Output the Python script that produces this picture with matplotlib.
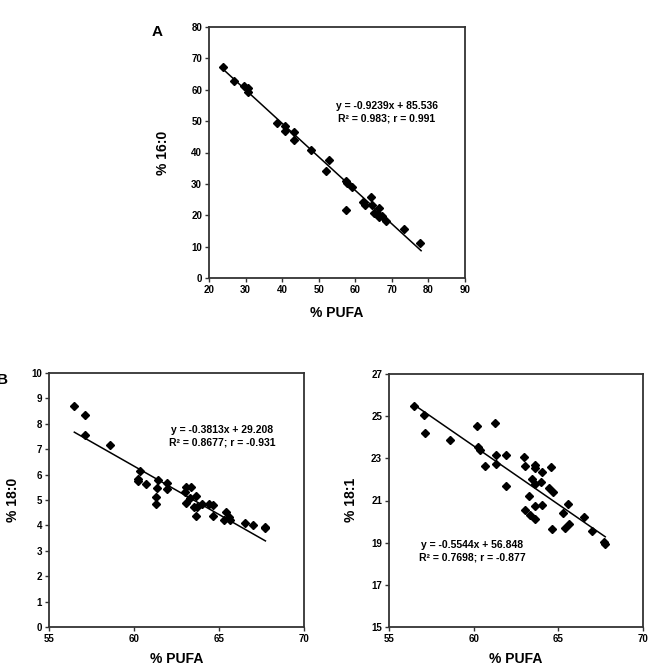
import matplotlib
matplotlib.use("Agg")
import matplotlib.pyplot as plt

plt.rcParams.update({
    "font.family": ["Liberation Sans", "DejaVu Sans"],
    "font.weight": "bold",
    "font.size": 7,
})

# Panel A: % PUFA vs % 16:0
a_pufa = [23.8, 26.8, 29.5, 30.8, 30.8, 38.6, 40.8, 40.8, 43.2, 43.2, 48.0, 52.1,
          52.9, 57.5, 57.6, 57.5, 59.0, 62.0, 62.7, 64.3, 64.5, 65.2, 66.1, 66.5,
          66.4, 67.3, 68.5, 73.2, 77.7]
a_160 = [67.1, 62.9, 61.3, 60.5, 59.4, 49.3, 48.5, 46.9, 46.5, 44.0, 40.8, 34.1,
         37.6, 31.0, 30.2, 21.6, 28.9, 24.3, 23.2, 25.9, 23.2, 20.8, 20.5, 22.2,
         19.5, 19.7, 18.2, 15.5, 11.2]
a_fit_x = [23.8, 78.0]
a_fit_y = [66.6, 8.7]

# Panel B left: % PUFA vs % 18:0
b_pufa = [56.49, 57.12, 57.10, 58.61, 60.24, 60.24, 60.37, 60.69, 61.27, 61.31,
          61.35, 61.39, 61.94, 61.94, 62.98, 63.08, 63.04, 63.33, 63.27, 63.63,
          63.53, 63.67, 63.71, 64.00, 64.41, 64.65, 64.65, 65.27, 65.43, 65.59,
          65.63, 66.51, 67.00, 67.69, 67.73]
b_180 = [8.71, 8.34, 7.54, 7.18, 5.83, 5.74, 6.13, 5.63, 4.84, 5.13,
         5.47, 5.80, 5.66, 5.45, 5.32, 5.50, 4.88, 5.50, 5.08, 5.14,
         4.71, 4.38, 4.71, 4.84, 4.84, 4.80, 4.38, 4.21, 4.51, 4.32,
         4.21, 4.08, 4.01, 3.95, 3.89]
b_fit_x = [56.49, 67.73]
b_fit_y = [7.67, 3.39]

# Panel B right: % PUFA vs % 18:1
c_pufa = [56.46, 57.07, 57.11, 58.58, 60.20, 60.26, 60.35, 60.69, 61.26, 61.30,
          61.34, 61.93, 61.89, 62.95, 63.05, 63.03, 63.27, 63.35, 63.46, 63.60,
          63.64, 63.62, 63.60, 63.60, 63.96, 64.04, 64.04, 64.43, 64.59, 64.69,
          64.65, 65.28, 65.39, 65.57, 65.61, 66.50, 66.99, 67.70, 67.74]
c_181 = [25.49, 25.06, 24.22, 23.88, 24.51, 23.54, 23.40, 22.64, 24.68, 23.15,
         22.72, 23.16, 21.69, 23.07, 22.64, 20.54, 21.22, 20.32, 22.04, 22.67,
         22.52, 21.80, 20.74, 20.11, 21.88, 22.33, 20.79, 21.57, 22.61, 21.41,
         19.64, 20.43, 19.68, 20.82, 19.87, 20.22, 19.56, 19.05, 18.95]
c_fit_x = [56.46, 67.77]
c_fit_y = [25.55, 19.28]

W, H = 666, 667


def px_axes(fig, x0, y0, x1, y1):
    return fig.add_axes([x0 / W, 1 - y1 / H, (x1 - x0) / W, (y1 - y0) / H])


def style(ax, xlim, ylim, xticks, yticks):
    ax.set_xlim(*xlim)
    ax.set_ylim(*ylim)
    ax.set_xticks(xticks)
    ax.set_yticks(yticks)
    for sp in ax.spines.values():
        sp.set_linewidth(1.3)
        sp.set_color("#333333")
    ax.tick_params(direction="out", length=3, width=1, color="#333333",
                   labelsize=7, pad=2)


def panel(fig, box, x, y, fx, fy, xlim, ylim, xticks, yticks):
    ax = px_axes(fig, *box)
    ax.plot(x, y, linestyle="none", marker="D", markersize=4.3,
            color="black", zorder=3)
    ax.plot(fx, fy, color="black", linewidth=1.1, zorder=2)
    style(ax, xlim, ylim, xticks, yticks)
    return ax


def ftext(fig, px, py, s, **kw):
    fig.text(px / W, 1 - py / H, s, **kw)


fig = plt.figure(figsize=(W / 100, H / 100), dpi=100)

panel(fig, (209, 27, 465, 278), a_pufa, a_160, a_fit_x, a_fit_y,
      (20, 90), (0, 80), range(20, 91, 10), range(0, 81, 10))
panel(fig, (49, 373, 304, 627), b_pufa, b_180, b_fit_x, b_fit_y,
      (55, 70), (0, 10), range(55, 71, 5), range(0, 11, 1))
panel(fig, (389, 374, 643, 627), c_pufa, c_181, c_fit_x, c_fit_y,
      (55, 70), (15, 27), range(55, 71, 5), range(15, 28, 2))

eq_kw = dict(ha="center", va="center", fontsize=7.5, fontweight="bold",
             linespacing=1.3)
ftext(fig, 387, 112.5, "y = -0.9239x + 85.536\nR² = 0.983; r = 0.991", **eq_kw)
ftext(fig, 222, 436, "y = -0.3813x + 29.208\nR² = 0.8677; r = -0.931", **eq_kw)
ftext(fig, 472, 551, "y = -0.5544x + 56.848\nR² = 0.7698; r = -0.877", **eq_kw)

lab_kw = dict(ha="center", va="center", fontsize=10, fontweight="bold")
ftext(fig, 337, 313, "% PUFA", **lab_kw)
ftext(fig, 177, 659, "% PUFA", **lab_kw)
ftext(fig, 516, 659, "% PUFA", **lab_kw)
ftext(fig, 163, 153, "% 16:0", rotation=90, **lab_kw)
ftext(fig, 13, 500, "% 18:0", rotation=90, **lab_kw)
ftext(fig, 351, 500, "% 18:1", rotation=90, **lab_kw)

ftext(fig, 157, 32, "A", ha="center", va="center", fontsize=11, fontweight="bold")
ftext(fig, 2, 380, "B", ha="center", va="center", fontsize=11, fontweight="bold")

fig.savefig("out.png", dpi=100)
